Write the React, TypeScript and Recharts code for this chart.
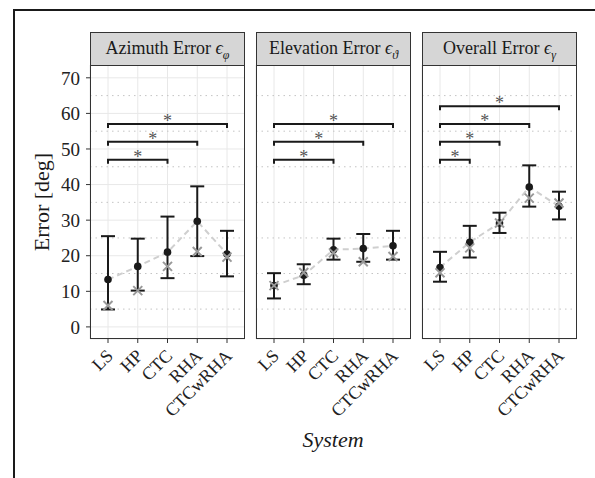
import React from "react";
import {
  ComposedChart,
  Line,
  XAxis,
  YAxis,
  CartesianGrid,
  ErrorBar,
  ReferenceLine,
} from "recharts";

// categories
const systems = ["LS", "HP", "CTC", "RHA", "CTCwRHA"];

// Azimuth error
const azimuthMean = [13.3, 17.0, 21.0, 29.7, 20.5];
const azimuthLow = [4.9, 10.2, 13.7, 19.9, 14.2];
const azimuthHigh = [25.5, 24.8, 31.0, 39.5, 27.0];
const azimuthMedian = [6.0, 10.2, 17.0, 21.2, 19.6];

// Elevation error
const elevationMean = [11.6, 14.5, 21.7, 22.0, 22.8];
const elevationLow = [8.0, 12.0, 18.9, 18.3, 18.9];
const elevationHigh = [15.1, 17.6, 24.8, 26.1, 27.0];
const elevationMedian = [11.6, 15.3, 20.8, 18.3, 19.8];

// Overall error
const overallMean = [16.7, 23.8, 29.2, 39.3, 33.9];
const overallLow = [12.7, 19.5, 26.4, 33.8, 30.2];
const overallHigh = [21.1, 28.4, 32.1, 45.4, 38.0];
const overallMedian = [15.2, 22.2, 29.2, 36.2, 34.8];

// significance brackets: [from, to, height]
const azimuthSig = [
  ["LS", "CTC", 47],
  ["LS", "RHA", 52],
  ["LS", "CTCwRHA", 57],
];
const elevationSig = [
  ["LS", "CTC", 47],
  ["LS", "RHA", 52],
  ["LS", "CTCwRHA", 57],
];
const overallSig = [
  ["LS", "HP", 47],
  ["LS", "CTC", 52],
  ["LS", "RHA", 57],
  ["LS", "CTCwRHA", 62],
];

const yTicks = [0, 10, 20, 30, 40, 50, 60, 70];
const yMinor = [5, 15, 25, 35, 45, 55, 65];

const FONT = "'Liberation Serif', 'DejaVu Serif', serif";
const PANEL_W = 155;
const PANEL_TOP = 65;
const PANEL_H = 274;
const LEFT_PAD = 60; // room left of each panel for y ticks / rotated labels

const MeanDot = (p: any) => (
  <circle key={`m-${p.index}`} cx={p.cx} cy={p.cy} r={3.8} fill="#1a1a1a" />
);

const Cross = (p: any) => {
  const s = 4.5;
  return (
    <path
      key={`x-${p.index}`}
      d={`M${p.cx - s},${p.cy - s}L${p.cx + s},${p.cy + s}M${p.cx - s},${p.cy + s}L${p.cx + s},${p.cy - s}`}
      stroke="#999"
      strokeWidth={2}
      fill="none"
    />
  );
};

const Bracket = (p: any) => {
  const { x1, y1, x2 } = p;
  return (
    <g>
      <path
        d={`M${x1},${y1 + 4}V${y1}H${x2}V${y1 + 4}`}
        stroke="#1a1a1a"
        strokeWidth={2}
        fill="none"
      />
      <text
        x={(x1 + x2) / 2}
        y={y1 + 3}
        textAnchor="middle"
        fontSize={18}
        fontFamily={FONT}
        fill="#555"
      >
        *
      </text>
    </g>
  );
};

const XTick = (p: any) => (
  <text
    transform={`translate(${p.x + 6},${p.y + 12}) rotate(-45)`}
    textAnchor="end"
    fontSize={18}
    fontFamily={FONT}
    fill="#222"
  >
    {p.payload.value}
  </text>
);

const Panel = ({ left, title, sub, mean, low, high, median, sig, showY }: any) => {
  const rows = systems.map((s, i) => ({
    system: s,
    mean: mean[i],
    median: median[i],
    err: [mean[i] - low[i], high[i] - mean[i]],
  }));
  return (
    <>
      {/* strip */}
      <div
        style={{
          position: "absolute",
          left,
          top: 32,
          width: PANEL_W,
          height: 34,
          boxSizing: "border-box",
          background: "#d6d6d6",
          border: "1px solid #333",
          fontFamily: FONT,
          fontSize: 18,
          color: "#1a1a1a",
          textAlign: "center",
          lineHeight: "31px",
          whiteSpace: "nowrap",
        }}
      >
        {title} <i>ϵ</i>
        <sub style={{ fontSize: 12, fontStyle: "italic", lineHeight: 0 }}>{sub}</sub>
      </div>
      <div style={{ position: "absolute", left: left - LEFT_PAD, top: PANEL_TOP }}>
        <ComposedChart
          width={PANEL_W + LEFT_PAD}
          height={PANEL_H + 110}
          data={rows}
          margin={{ top: 0, right: 0, bottom: 0, left: 0 }}
        >
          <CartesianGrid stroke="#e8e8e8" strokeWidth={1} />
          {yMinor.map((v) => (
            <ReferenceLine key={v} y={v} stroke="#c4c4c4" strokeDasharray="1.5 4" />
          ))}
          <XAxis
            dataKey="system"
            padding={{ left: 18, right: 18 }}
            height={110}
            interval={0}
            axisLine={false}
            tickSize={4}
            tickLine={{ stroke: "#333" }}
            tick={<XTick />}
          />
          <YAxis
            domain={[-3.4, 73.6]}
            ticks={yTicks}
            allowDataOverflow
            width={LEFT_PAD}
            axisLine={false}
            tickSize={showY ? 4 : 0}
            tickMargin={6}
            tickLine={showY ? { stroke: "#333" } : false}
            tick={showY ? { fontSize: 19, fontFamily: FONT, fill: "#222" } : false}
          />
          <Line
            dataKey="mean"
            stroke="#cfcfcf"
            strokeWidth={2}
            strokeDasharray="6 4"
            dot={MeanDot}
            activeDot={false}
            isAnimationActive={false}
          >
            <ErrorBar dataKey="err" direction="y" width={7} stroke="#1a1a1a" strokeWidth={2} />
          </Line>
          <Line
            dataKey="median"
            stroke="none"
            dot={Cross}
            activeDot={false}
            isAnimationActive={false}
          />
          {sig.map(([a, b, y]: any) => (
            <ReferenceLine
              key={`${a}-${b}`}
              segment={[
                { x: a, y },
                { x: b, y },
              ]}
              shape={Bracket}
            />
          ))}
        </ComposedChart>
      </div>
      {/* panel border */}
      <div
        style={{
          position: "absolute",
          left,
          top: PANEL_TOP,
          width: PANEL_W,
          height: PANEL_H,
          boxSizing: "border-box",
          border: "1px solid #333",
          pointerEvents: "none",
        }}
      />
    </>
  );
};

export default function App() {
  return (
    <div
      style={{
        position: "absolute",
        left: 0,
        top: 0,
        width: 595,
        height: 478,
        overflow: "hidden",
        background: "#fff",
      }}
    >
      {/* outer frame, cut at right and bottom */}
      <div
        style={{
          position: "absolute",
          left: 13,
          top: 9,
          width: 700,
          height: 600,
          border: "2px solid #1a1a1a",
        }}
      />
      <Panel
        left={90}
        title="Azimuth Error"
        sub="φ"
        mean={azimuthMean}
        low={azimuthLow}
        high={azimuthHigh}
        median={azimuthMedian}
        sig={azimuthSig}
        showY
      />
      <Panel
        left={256}
        title="Elevation Error"
        sub="ϑ"
        mean={elevationMean}
        low={elevationLow}
        high={elevationHigh}
        median={elevationMedian}
        sig={elevationSig}
      />
      <Panel
        left={422}
        title="Overall Error"
        sub="γ"
        mean={overallMean}
        low={overallLow}
        high={overallHigh}
        median={overallMedian}
        sig={overallSig}
      />
      <svg
        width={595}
        height={478}
        style={{ position: "absolute", left: 0, top: 0, pointerEvents: "none" }}
      >
        <text
          transform="translate(49,202) rotate(-90)"
          textAnchor="middle"
          fontSize={22}
          fontFamily={FONT}
          fill="#1a1a1a"
        >
          Error [deg]
        </text>
        <text
          x={333}
          y={447}
          textAnchor="middle"
          fontSize={22}
          fontStyle="italic"
          fontFamily={FONT}
          fill="#1a1a1a"
        >
          System
        </text>
      </svg>
    </div>
  );
}
